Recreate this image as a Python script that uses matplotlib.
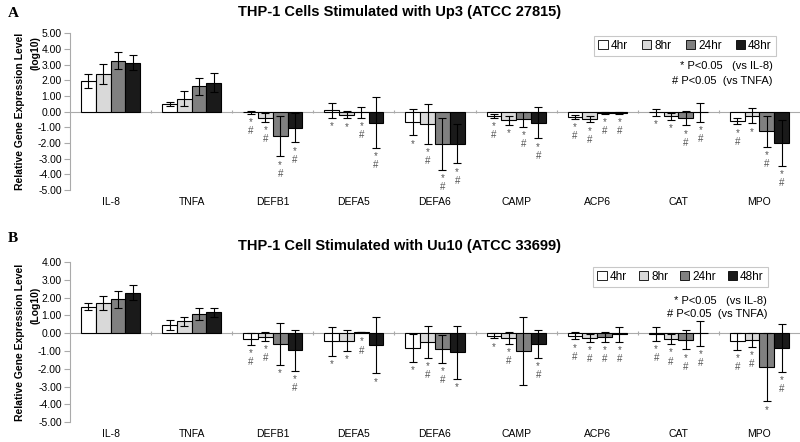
import matplotlib.pyplot as plt
import numpy as np
from matplotlib.patches import Patch
from matplotlib.ticker import FormatStrFormatter

plt.rcParams['font.family'] = ['Liberation Sans', 'DejaVu Sans']

genes = ["IL-8", "TNFA", "DEFB1", "DEFA5", "DEFA6", "CAMP", "ACP6", "CAT", "MPO"]
times = ["4hr", "8hr", "24hr", "48hr"]
bar_colors = ["white", "#d9d9d9", "#808080", "#1a1a1a"]

# panel A: Up3 (ATCC 27815)
a_4hr = [1.95, 0.50, -0.05, 0.08, -0.66, -0.28, -0.34, -0.05, -0.60]
a_4hr_err = [0.47, 0.14, 0.10, 0.50, 0.85, 0.13, 0.14, 0.20, 0.22]
a_8hr = [2.40, 0.83, -0.38, -0.20, -0.77, -0.56, -0.47, -0.30, -0.25]
a_8hr_err = [0.65, 0.50, 0.27, 0.23, 1.28, 0.30, 0.22, 0.22, 0.50]
a_24hr = [3.25, 1.60, -1.58, -0.03, -2.05, -0.50, -0.08, -0.43, -1.26]
a_24hr_err = [0.55, 0.57, 1.27, 0.35, 1.67, 0.45, 0.05, 0.45, 1.00]
a_48hr = [3.12, 1.85, -1.03, -0.70, -2.05, -0.70, -0.10, -0.05, -1.99]
a_48hr_err = [0.50, 0.62, 0.93, 1.60, 1.25, 1.00, 0.05, 0.60, 1.45]
a_sig_4hr = ["", "", "*#", "*", "*", "*#", "*#", "*", "*#"]
a_sig_8hr = ["", "", "*#", "*", "*#", "*", "*#", "*", "*"]
a_sig_24hr = ["", "", "*#", "*#", "*#", "*#", "*#", "*#", "*#"]
a_sig_48hr = ["", "", "*#", "*#", "*#", "*#", "*#", "*#", "*#"]

# panel B: Uu10 (ATCC 33699)
b_4hr = [1.49, 0.45, -0.32, -0.45, -0.83, -0.13, -0.15, -0.03, -0.45]
b_4hr_err = [0.20, 0.27, 0.33, 0.82, 0.77, 0.16, 0.20, 0.40, 0.47]
b_8hr = [1.68, 0.67, -0.19, -0.41, -0.50, -0.26, -0.26, -0.34, -0.38]
b_8hr_err = [0.39, 0.27, 0.25, 0.58, 0.88, 0.33, 0.22, 0.28, 0.40]
b_24hr = [1.90, 1.08, -0.60, 0.05, -0.88, -1.01, -0.22, -0.37, -1.91]
b_24hr_err = [0.47, 0.32, 1.17, 0.00, 0.78, 1.90, 0.28, 0.54, 1.92]
b_48hr = [2.29, 1.17, -0.97, -0.68, -1.07, -0.60, -0.05, 0.00, -0.83]
b_48hr_err = [0.44, 0.27, 1.15, 1.58, 1.49, 0.79, 0.42, 0.70, 1.34]
b_sig_4hr = ["", "", "*#", "*", "*", "*", "*#", "*#", "*#"]
b_sig_8hr = ["", "", "*#", "*", "*#", "*#", "*#", "*#", "*#"]
b_sig_24hr = ["", "", "*", "*#", "*#", "", "*#", "*#", "*"]
b_sig_48hr = ["", "", "*#", "*", "*", "*#", "*#", "*#", "*#"]


def draw_panel(ax, means, errs, sigs, yticks, unit_label, unit_y, legend_anchor, colspace, note_xy, note_gap):
    x = np.arange(len(genes))
    width = 0.182
    for k in range(len(times)):
        pos = x + (k - 1.5) * width
        ax.bar(pos, means[k], width, color=bar_colors[k], edgecolor="black", linewidth=0.8, zorder=2)
        ax.errorbar(pos, means[k], yerr=errs[k], fmt="none", ecolor="black",
                    elinewidth=0.8, capsize=3, capthick=0.8, zorder=3)
        # significance marks under each bar
        for px, m, e, s in zip(pos, means[k], errs[k], sigs[k]):
            low = min(m - e, 0)
            for j, ch in enumerate(s):
                ax.annotate(ch, (px, low), xytext=(0, -6 - 6.5 * j), textcoords="offset points",
                            ha="center", va="center", fontsize=7, color="#555555")
    ax.axhline(0, color="#aaaaaa", linewidth=0.8, zorder=1)
    ax.vlines(x[:-1] + 0.5, -0.12, 0.12, color="#aaaaaa", linewidth=0.8, zorder=1)
    ax.set_xlim(-0.5, len(genes) - 0.5)
    ax.set_ylim(yticks[-1], yticks[0])
    ax.set_yticks(yticks)
    ax.yaxis.set_major_formatter(FormatStrFormatter("%.2f"))
    ax.set_xticks(x)
    ax.set_xticklabels(genes)
    ax.tick_params(axis="x", length=0, pad=5, labelsize=7.5)
    ax.tick_params(axis="y", length=4, color="#aaaaaa", labelsize=7.5, pad=2)
    for side in ["top", "right", "bottom"]:
        ax.spines[side].set_visible(False)
    ax.spines["left"].set_color("#aaaaaa")
    # two-line axis title, second line sits high as in the original
    ax.text(-0.068, 0.5, "Relative Gene Expression Level", transform=ax.transAxes, rotation=90,
            ha="center", va="center", fontsize=7.5, fontweight="bold")
    ax.text(-0.047, unit_y, unit_label, transform=ax.transAxes, rotation=90,
            ha="center", va="center", fontsize=7.5, fontweight="bold")
    handles = [Patch(facecolor=c, edgecolor="black", linewidth=0.6, label=t)
               for c, t in zip(bar_colors, times)]
    leg = ax.legend(handles=handles, ncol=4, loc="upper right", bbox_to_anchor=legend_anchor,
                    fontsize=8.5, frameon=True, fancybox=False, handlelength=0.8, handleheight=0.8,
                    handletextpad=0.25, columnspacing=colspace, borderpad=0.35, borderaxespad=0)
    leg.get_frame().set_edgecolor("#bbbbbb")
    leg.get_frame().set_linewidth(0.8)
    nx, ny = note_xy
    ax.text(nx, ny, "* P<0.05   (vs IL-8)", transform=ax.transAxes, ha="right", va="center", fontsize=8)
    ax.text(nx, ny - note_gap, "# P<0.05  (vs TNFA)", transform=ax.transAxes, ha="right", va="center", fontsize=8)


fig = plt.figure(figsize=(8, 4.42), dpi=100)
ax_a = fig.add_axes([0.0875, 0.570, 0.9125, 0.355])
ax_b = fig.add_axes([0.0875, 0.045, 0.9125, 0.362])

draw_panel(ax_a, [a_4hr, a_8hr, a_24hr, a_48hr],
           [a_4hr_err, a_8hr_err, a_24hr_err, a_48hr_err],
           [a_sig_4hr, a_sig_8hr, a_sig_24hr, a_sig_48hr],
           [5, 4, 3, 2, 1, 0, -1, -2, -3, -4, -5],
           "(log10)", 0.87, (0.967, 0.985), 1.2, (0.963, 0.79), 0.095)
draw_panel(ax_b, [b_4hr, b_8hr, b_24hr, b_48hr],
           [b_4hr_err, b_8hr_err, b_24hr_err, b_48hr_err],
           [b_sig_4hr, b_sig_8hr, b_sig_24hr, b_sig_48hr],
           [4, 3, 2, 1, 0, -1, -2, -3, -4, -5],
           "(Log10)", 0.73, (0.956, 0.97), 1.0, (0.955, 0.76), 0.082)

fig.text(0.5, 0.973, "THP-1 Cells Stimulated with Up3 (ATCC 27815)",
         ha="center", va="center", fontsize=10.5, fontweight="bold")
fig.text(0.5, 0.443, "THP-1 Cell Stimulated with Uu10 (ATCC 33699)",
         ha="center", va="center", fontsize=10.5, fontweight="bold")
fig.text(0.01, 0.985, "A", family="Liberation Serif", fontweight="bold", fontsize=11, va="top")
fig.text(0.01, 0.475, "B", family="Liberation Serif", fontweight="bold", fontsize=11, va="top")

fig.savefig("out.png", dpi=100)
